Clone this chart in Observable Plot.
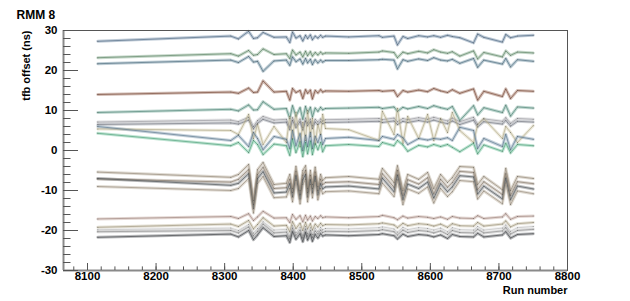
<!DOCTYPE html>
<html><head><meta charset="utf-8">
<script src="https://cdn.jsdelivr.net/npm/d3@7"></script>
<script src="https://cdn.jsdelivr.net/npm/@observablehq/plot@0.6"></script>
<style>body{margin:0;background:#fff;} svg{display:block;}</style>
</head><body><div id="chart"></div>
<script>
const runs = [8115,8309,8320,8335,8342,8348,8356,8372,8390,8395,
  8399,8404,8410,8414,8418,8421,8425,8428,8432,8436,
  8440,8443,8447,8481,8525,8530,8547,8552,8560,8567,
  8583,8596,8605,8615,8625,8632,8643,8663,8669,8678,
  8705,8710,8717,8727,8750];

const s1 = [27.3,28.6,27.9,29.8,28.0,28.2,29.5,28.3,28.4,27.0, 29.6,28.1,28.7,27.4,28.8,28.0,28.9,27.7,28.6,28.1, 28.8,28.3,28.6,28.4,28.7,28.3,28.6,26.4,28.5,28.0, 28.7,28.4,28.7,28.3,28.8,28.5,28.2,26.9,29.1,28.3, 27.1,29.0,28.2,28.6,28.8];
const s2 = [23.2,24.2,23.6,25.0,23.8,24.0,25.4,24.0,24.2,23.0, 25.1,23.9,24.6,23.4,24.8,23.7,24.7,23.6,24.5,23.9, 24.6,24.1,24.4,24.3,24.6,24.9,24.5,23.2,24.6,24.2, 24.8,24.4,25.2,24.6,24.3,24.7,23.6,24.9,22.9,24.5, 23.4,24.9,23.8,24.6,24.4];
const s3 = [21.7,22.6,22.0,23.5,22.1,22.3,19.8,22.4,22.6,21.3, 23.4,22.2,22.9,21.6,23.0,21.9,22.8,21.5,22.7,21.9, 22.6,22.1,22.5,22.5,22.7,22.8,22.6,20.4,22.7,22.3, 22.9,22.5,23.2,22.6,22.4,22.8,21.8,23.0,20.8,22.6, 21.6,23.0,20.9,22.7,22.3];
const s4 = [14.0,14.6,14.3,15.6,14.5,14.6,17.4,14.6,14.8,12.6, 15.5,14.5,15.0,13.0,15.2,14.3,15.1,12.9,15.0,14.4, 15.2,14.6,14.9,14.8,15.0,14.8,15.0,13.5,15.0,14.6, 15.1,14.7,15.5,14.9,14.5,15.2,14.3,15.4,12.6,14.8, 13.5,15.4,13.0,15.0,14.8];
const s5 = [9.5,10.3,9.9,11.4,10.1,10.2,12.2,10.3,10.5,8.0, 11.2,8.6,10.7,7.8,11.0,9.3,10.8,8.4,10.6,9.8, 10.8,10.2,10.5,10.6,10.8,10.5,10.9,9.8,10.8,10.4, 11.0,10.5,11.2,10.7,10.3,11.0,7.5,11.2,8.9,10.7, 9.5,11.3,8.6,10.9,10.6];
const s6 = [7.1,7.6,7.2,8.3,6.0,7.5,8.5,7.6,7.8,5.9, 8.2,6.4,7.9,5.8,8.1,6.9,7.9,6.2,7.8,7.2, 7.9,7.4,7.7,7.8,8.0,7.7,8.1,7.2,8.0,7.7, 8.2,7.8,8.3,7.8,7.4,8.1,7.2,8.3,6.6,7.9, 7.3,8.2,6.8,8.0,7.8];
const s7 = [6.5,6.9,6.6,7.6,5.4,6.8,7.8,6.9,7.1,5.2, 7.5,5.7,7.2,5.1,7.4,6.2,7.2,5.5,7.1,6.5, 7.2,6.7,7.0,7.1,7.3,7.0,7.4,6.5,7.3,7.0, 7.5,7.1,7.6,7.1,6.7,7.4,6.5,7.6,5.9,7.2, 6.6,7.5,6.1,7.3,7.1];
const s8 = [5.4,5.0,4.0,9.0,3.0,6.5,1.5,6.0,2.0,8.5, 3.0,9.5,1.0,7.0,2.5,10.0,3.5,8.0,1.5,6.5, 4.0,9.0,5.5,5.2,2.5,9.8,4.0,10.5,1.8,8.5, 3.0,9.0,2.5,8.0,4.5,9.5,5.0,2.0,6.5,8.0, 3.0,6.0,4.5,2.0,6.2];
const s9 = [6.0,2.5,3.8,1.0,4.5,3.0,0.2,3.5,2.8,0.5, 5.0,1.2,4.2,0.0,3.8,1.0,4.5,0.5,3.5,2.0, 4.0,1.5,3.0,3.3,2.5,3.5,2.8,4.0,3.2,1.5, 3.0,2.6,3.0,2.8,3.2,2.5,5.8,5.0,0.5,3.0, 1.0,4.0,0.2,3.5,2.8];
const s10 = [4.3,1.2,2.0,-0.5,2.5,1.5,-1.0,1.6,1.2,-1.2, 2.8,-0.5,2.2,-1.5,2.0,-0.8,2.4,-1.0,1.8,0.2, 2.0,-0.3,1.2,1.5,1.0,2.0,1.2,2.5,1.4,-0.2, 1.3,0.9,1.5,1.0,1.5,0.8,-0.3,1.8,-0.8,1.4, -0.2,1.8,-0.6,1.5,1.2];
const s11 = [-5.4,-6.7,-6.0,-3.5,-12.5,-4.8,-3.0,-8.5,-8.2,-6.0, -9.5,-4.0,-10.0,-5.0,-3.8,-9.5,-5.0,-8.5,-4.2,-9.0, -6.0,-7.5,-6.8,-6.5,-7.2,-4.5,-8.0,-3.8,-10.0,-6.0, -7.2,-5.5,-9.5,-6.0,-8.0,-6.8,-4.0,-4.2,-8.5,-6.5, -9.8,-4.5,-10.0,-6.5,-7.0];
const s12 = [-7.1,-7.9,-7.2,-4.8,-13.5,-6.0,-4.2,-9.5,-9.3,-7.2, -10.5,-5.2,-11.0,-6.2,-5.0,-10.5,-6.2,-9.5,-5.4,-10.0, -7.2,-8.5,-8.0,-7.8,-8.5,-5.8,-9.2,-5.0,-11.2,-7.3, -8.4,-6.8,-10.8,-7.2,-9.2,-8.0,-5.2,-5.5,-9.8,-7.8, -11.0,-5.8,-11.2,-7.8,-8.3];
const s13 = [-7.0,-8.7,-8.2,-5.8,-14.5,-7.0,-5.3,-10.6,-10.4,-8.3, -11.6,-6.3,-12.1,-7.3,-6.0,-11.6,-7.3,-10.6,-6.5,-11.1, -8.3,-9.6,-9.1,-8.9,-9.6,-6.9,-10.3,-6.1,-12.3,-8.4, -9.5,-7.9,-11.9,-8.3,-10.3,-9.1,-6.3,-6.6,-10.9,-8.9, -12.1,-6.9,-12.3,-8.9,-9.6];
const s14 = [-9.0,-10.0,-9.5,-7.0,-15.6,-8.2,-6.5,-11.8,-11.6,-9.5, -12.8,-7.5,-13.3,-8.5,-7.2,-12.8,-8.5,-11.8,-7.7,-12.3, -9.5,-10.8,-10.3,-10.1,-10.8,-8.1,-11.5,-7.3,-13.5,-9.6, -10.7,-9.1,-13.1,-9.5,-11.5,-10.3,-7.5,-7.8,-12.1,-10.1, -13.3,-8.1,-13.5,-10.1,-10.8];
const s15 = [-17.1,-16.5,-17.0,-15.8,-17.5,-16.6,-15.2,-16.9,-16.8,-18.0, -16.0,-17.2,-16.3,-17.8,-16.2,-17.4,-16.4,-17.6,-16.5,-17.0, -16.3,-16.8,-16.6,-16.8,-16.5,-16.2,-16.8,-17.3,-16.4,-16.9, -16.5,-16.7,-17.0,-16.6,-17.2,-16.5,-16.9,-17.0,-16.3,-17.0, -16.6,-15.8,-17.2,-16.5,-16.4];
const s16 = [-19.2,-18.4,-19.0,-17.5,-19.6,-18.5,-16.8,-18.9,-18.7,-20.3, -17.8,-19.5,-18.2,-20.0,-18.0,-19.6,-18.3,-19.9,-18.4,-19.1, -18.2,-18.8,-18.5,-18.6,-18.3,-18.1,-18.6,-19.3,-18.2,-18.8, -18.3,-18.5,-18.9,-18.4,-19.2,-18.3,-18.8,-18.9,-18.0,-18.9, -18.4,-17.6,-19.1,-18.3,-18.0];
const s17 = [-19.8,-19.4,-20.0,-18.5,-20.6,-19.5,-17.8,-19.9,-19.7,-21.4, -18.8,-20.5,-19.2,-21.1,-19.0,-20.7,-19.3,-21.0,-19.4,-20.2, -19.2,-19.8,-19.5,-19.6,-19.3,-19.1,-19.6,-20.4,-19.2,-19.8, -19.3,-19.5,-19.9,-19.4,-20.3,-19.3,-19.8,-19.9,-19.0,-19.9, -19.4,-18.6,-20.2,-19.3,-19.0];
const s18 = [-20.3,-20.0,-20.6,-19.1,-21.3,-20.2,-18.4,-20.6,-20.4,-22.0, -19.4,-21.2,-19.9,-21.8,-19.6,-21.4,-20.0,-21.7,-20.1,-20.9, -19.9,-20.5,-20.2,-20.3,-20.0,-19.8,-20.3,-21.1,-19.9,-20.5, -20.0,-20.2,-20.6,-20.1,-21.0,-20.0,-20.5,-20.6,-19.7,-20.6, -20.1,-19.3,-20.9,-20.0,-19.7];
const s19 = [-21.7,-20.9,-21.6,-20.0,-22.3,-21.1,-19.3,-21.5,-21.3,-23.0, -20.3,-22.2,-20.8,-22.8,-20.5,-22.4,-20.9,-22.7,-21.0,-21.9, -20.8,-21.4,-21.1,-21.3,-21.0,-20.8,-21.3,-22.1,-20.9,-21.5, -21.0,-21.2,-21.6,-21.1,-22.0,-21.0,-21.5,-21.6,-20.7,-21.6, -21.1,-20.3,-21.9,-21.0,-20.8];

const seriesValues = [s1,s2,s3,s4,s5,s6,s7,s8,s9,s10,s11,s12,s13,s14,s15,s16,s17,s18,s19];
const seriesNames = ["ch1","ch2","ch3","ch4","ch5","ch6","ch7","ch8","ch9","ch10","ch11","ch12","ch13","ch14","ch15","ch16","ch17","ch18","ch19"];
const seriesColors = ["#5d7b98","#6f9a78","#5b7f93","#8c5743","#5f9a8a","#b4b4ba","#8c909a","#cdc5a2","#6d8ca5","#5cba8e","#ad9f8d","#9d8f7f","#5e6468","#b2a592","#b89c92","#b8ae92","#dcdcdc","#a6a6a6","#4d5154"];

const xDomain = [8065, 8800];
const yDomain = [-30, 30];
const xTicks = [8100,8200,8300,8400,8500,8600,8700,8800];
const yTicks = [-30,-20,-10,0,10,20,30];
const xMinor = d3.range(8080, 8801, 20);
const yMinor = d3.range(-30, 30.1, 2);

const data = seriesValues.flatMap((vals, i) => vals.map((v, j) => ({
  run: runs[j], value: v, series: seriesNames[i],
  color: seriesColors[i], dark: d3.color(seriesColors[i]).darker(0.4).formatHex()
})));

const font = "'Liberation Sans', Arial, Helvetica, sans-serif";
const chart = Plot.plot({
  width: 630, height: 301,
  marginLeft: 63, marginRight: 63, marginTop: 30, marginBottom: 31,
  style: {fontFamily: font, fontSize: "11px", background: "#fff", color: "#000"},
  x: {domain: xDomain},
  y: {domain: yDomain},
  color: {type: "identity"},
  marks: [
    Plot.line(data, {x: "run", y: "value", z: "series", stroke: "color", strokeWidth: 3, strokeOpacity: 0.4}),
    Plot.line(data, {x: "run", y: "value", z: "series", stroke: "dark", strokeWidth: 0.8, strokeOpacity: 0.85}),
    Plot.dot(data, {x: "run", y: "value", r: 0.5, fill: "#333", fillOpacity: 0.5}),
    Plot.frame({stroke: "#555", strokeWidth: 1}),
    Plot.ruleX([xDomain[0]], {stroke: "#8a8a8a", strokeWidth: 2}),
    Plot.ruleY([yDomain[0]], {stroke: "#8a8a8a", strokeWidth: 2}),
    Plot.axisY(yTicks, {tickSize: 0, tickPadding: 6, label: null, tickFormat: d => String(d), fontWeight: "bold", fontSize: 11.5}),
    Plot.axisY(yTicks, {tickSize: -15, label: null, tickFormat: () => "", stroke: "#555"}),
    Plot.axisY(yMinor, {tickSize: -7.5, label: null, tickFormat: () => "", stroke: "#555"}),
    Plot.axisX(xTicks, {tickSize: 0, tickPadding: 1, label: null, tickFormat: d => String(d), fontWeight: "bold", fontSize: 11.5}),
    Plot.axisX(xTicks, {tickSize: -7, label: null, tickFormat: () => "", stroke: "#555"}),
    Plot.axisX(xMinor, {tickSize: -3.6, label: null, tickFormat: () => "", stroke: "#555"}),
    Plot.text(["RMM 8"], {frameAnchor: "top-left", text: d => d, dx: -47, dy: -20, textAnchor: "start", fontWeight: "bold", fontSize: 12}),
    Plot.text(["tfb offset (ns)"], {frameAnchor: "top-left", text: d => d, dx: -41, dy: 0, rotate: -90, textAnchor: "end", fontWeight: "bold", fontSize: 11}),
    Plot.text(["Run number"], {frameAnchor: "bottom-right", text: d => d, dx: 0, dy: 23, textAnchor: "end", fontWeight: "bold", fontSize: 11})
  ]
});
document.getElementById("chart").appendChild(chart);
</script>
</body></html>
